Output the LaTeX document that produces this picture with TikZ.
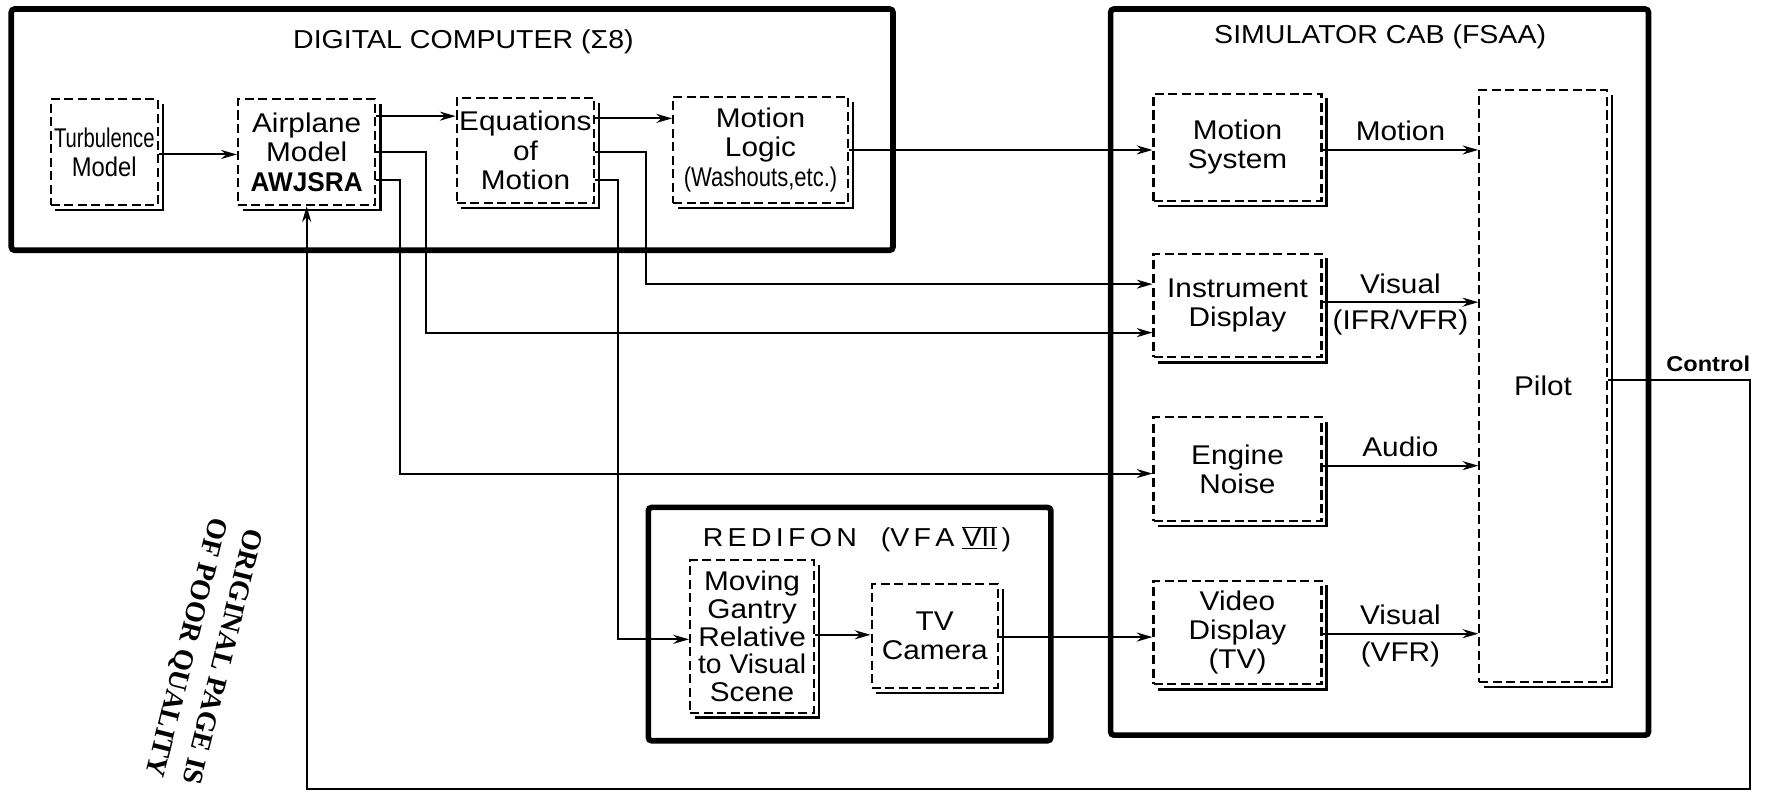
\documentclass[tikz,border=0pt]{standalone}
\usepackage{fontspec}
\setmainfont{Liberation Sans}[FakeStretch=1.1]
\newfontfamily\stampfont{Liberation Serif}
\usetikzlibrary{arrows.meta}
\newcommand\boxshade[1]{\draw[line width=2pt] ([xshift=3.5pt,yshift=-5pt]#1.north east) -- ([xshift=3.5pt,yshift=-3.5pt]#1.south east) -- ([xshift=5pt,yshift=-3.5pt]#1.south west);}
\newcommand\sqz[2]{\scalebox{#1}[1]{#2}}
\begin{document}
\begin{tikzpicture}[x=1pt,y=-1pt,
  blk/.style={draw,dash pattern=on 8pt off 4pt,line width=1.8pt,inner sep=0pt,align=center,font=\fontsize{24}{26}\selectfont},
  outer/.style={draw,line width=5pt,rounded corners=3pt,inner sep=0pt},
  ar/.style={-{Stealth[length=14pt,width=8pt]},line width=1.8pt},
  lbl/.style={font=\fontsize{24}{26}\selectfont,inner sep=1pt},
  ttl/.style={font=\fontsize{23}{26}\selectfont}]
\useasboundingbox (0,0) rectangle (1568,708);

% outer boxes
\node[outer,minimum width=782pt,minimum height=214pt] (dc) at (401,115) {};
\node[outer,minimum width=477pt,minimum height=644pt] (sim) at (1223.5,330) {};
\node[outer,minimum width=357pt,minimum height=207pt] (red) at (753.5,553.5) {};
\node[ttl] (dct) at (411,37) {DIGITAL COMPUTER (\symbol{"03A3}8)};
\node[ttl] (simt) at (1224,33) {SIMULATOR CAB (FSAA)};
\node[ttl] (redt) at (760,478) {R\,E\,D\,I\,F\,O\,N\ \ \ (V\,F\,A\ $\overline{\underline{\mbox{VII}}}$\,)};

% blocks
\node[blk,minimum width=95pt,minimum height=94pt] (turb) at (92.5,135) {\sqz{0.68}{Turbulence}\\\sqz{0.8}{Model}};
\node[blk,minimum width=122pt,minimum height=94pt] (air) at (272,135) {Airplane\\Model\\\sqz{0.88}{\bfseries AWJSRA}};
\node[blk,minimum width=122pt,minimum height=93pt] (eqn) at (466,133.5) {Equations\\of\\Motion};
\node[blk,minimum width=155pt,minimum height=94pt] (mlog) at (674.5,133) {Motion\\Logic\\\sqz{0.74}{(Washouts,etc.)}};
\node[blk,minimum width=149pt,minimum height=95pt] (msys) at (1097.5,130.5) {Motion\\System};
\node[blk,minimum width=149pt,minimum height=92pt] (inst) at (1097.5,271) {Instrument\\Display};
\node[blk,minimum width=149pt,minimum height=92pt] (eng) at (1097.5,416) {Engine\\Noise};
\node[blk,minimum width=149pt,minimum height=92pt] (vid) at (1097.5,561) {Video\\Display\\(TV)};
\node[blk,minimum width=113pt,minimum height=525pt] (pilot) at (1368.5,342.5) {Pilot};
\node[blk,minimum width=110pt,minimum height=135pt,font=\fontsize{24}{24.5}\selectfont] (gantry) at (667,564.5) {Moving\\Gantry\\Relative\\\sqz{0.95}{to Visual}\\Scene};
\node[blk,minimum width=112pt,minimum height=92pt] (tvc) at (829,564) {TV\\Camera};
\foreach \n in {turb,air,eqn,mlog,msys,inst,eng,vid,pilot,gantry,tvc} {\boxshade{\n}}

% connectors inside computer
\draw[ar] (turb.east |- 0,137) -- (air.west |- 0,137);
\draw[ar] (air.east |- 0,103) -- (eqn.west |- 0,103);
\draw[ar] (eqn.east |- 0,105) -- (mlog.west |- 0,105);
\draw[ar] (mlog.east |- 0,133) -- (msys.west |- 0,133);

% routed connectors
\coordinate (a1) at (378,135);
\coordinate (a2) at (355,160);
\coordinate (e1) at (573,135);
\coordinate (e2) at (548,160);
\draw[ar] (air.east |- a1) -- (a1) -- (a1 |- 0,295) -- (inst.west |- 0,295);
\draw[ar] (air.east |- a2) -- (a2) -- (a2 |- 0,420) -- (eng.west |- 0,420);
\draw[ar] (eqn.east |- e1) -- (e1) -- (e1 |- 0,252) -- (inst.west |- 0,252);
\draw[ar] (eqn.east |- e2) -- (e2) -- (e2 |- 0,567) -- (gantry.west |- 0,567);
\draw[ar] (gantry.east |- 0,563) -- (tvc.west |- 0,563);
\draw[ar] (tvc.east |- 0,565) -- (vid.west |- 0,565);

% to pilot
\draw[ar] (msys.east |- 0,133) -- node[lbl,above=6pt] (lm) {Motion} (pilot.west |- 0,133);
\draw[ar] (inst.east |- 0,268) -- node[lbl,above=6pt] (lv1) {Visual} node[lbl,below=5pt] (lv1b) {(IFR/VFR)} (pilot.west |- 0,268);
\draw[ar] (eng.east |- 0,413) -- node[lbl,above=6pt] (la) {Audio} (pilot.west |- 0,413);
\draw[ar] (vid.east |- 0,562) -- node[lbl,above=6pt] (lv2) {Visual} node[lbl,below=5pt] (lv2b) {(VFR)} (pilot.west |- 0,562);

% feedback
\coordinate (c1) at (1552,337);
\coordinate (c2) at (1552,700);
\draw[ar] (pilot.east |- c1) -- (c1) -- (c2) -- (air.south |- c2) -- (air.south);
\node[font=\fontsize{19}{22}\selectfont\bfseries] (ctl) at (1515,323) {Control};

% stamp
\node[font=\stampfont\fontsize{25}{33}\selectfont\bfseries,rotate=-104,align=center] (stamp) at (180,578) {ORIGINAL PAGE IS\\OF POOR QUALITY};
\end{tikzpicture}
\end{document}
